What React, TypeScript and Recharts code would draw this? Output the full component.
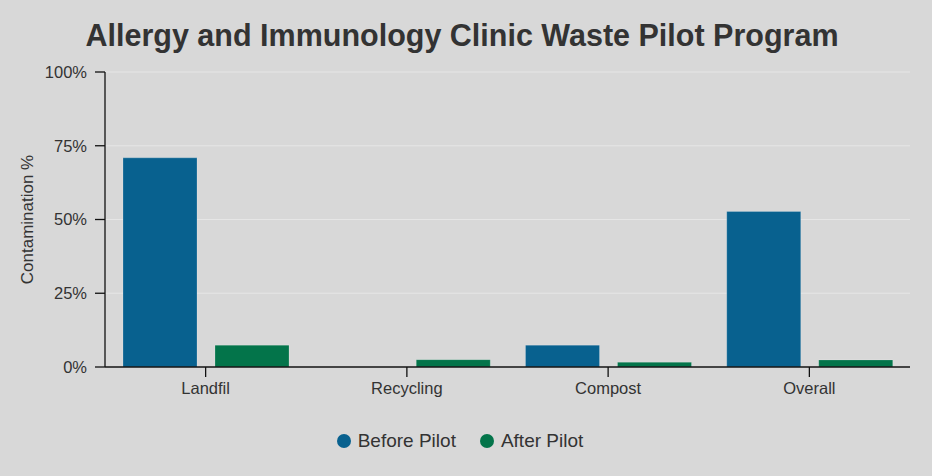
import { Bar, BarChart, CartesianGrid, Legend, XAxis, YAxis } from "recharts";

if (typeof document !== "undefined") document.body.style.margin = "0";

const categories = ["Landfil", "Recycling", "Compost", "Overall"];
const beforePilot = [70.9, 0, 7.4, 52.7];
const afterPilot = [7.4, 2.5, 1.6, 2.4];
const yTicks = [0, 25, 50, 75, 100];
const seriesNames = ["Before Pilot", "After Pilot"];
const colors = ["#08618f", "#03744a"];

const data = categories.map((category, i) => ({
  category,
  before: beforePilot[i],
  after: afterPilot[i],
}));

const textColor = "#333333";
const font = '"Liberation Sans", Arial, Helvetica, sans-serif';

function PilotLegend() {
  return (
    <div style={{ display: "flex", justifyContent: "center", alignItems: "center", height: 28, gap: 24 }}>
      {seriesNames.map((name, i) => (
        <span key={name} style={{ display: "flex", alignItems: "center", gap: 7, fontSize: 19, color: textColor, fontFamily: font }}>
          <span style={{ width: 14, height: 14, borderRadius: 7, backgroundColor: colors[i], display: "inline-block" }} />
          {name}
        </span>
      ))}
    </div>
  );
}

function YLabel({ viewBox }: any) {
  const cy = viewBox.y + viewBox.height / 2;
  return (
    <text x={33} y={cy} transform={`rotate(-90, 33, ${cy})`} textAnchor="middle" fill={textColor} fontSize={17} fontFamily={font}>
      Contamination %
    </text>
  );
}

export default function App() {
  return (
    <div style={{ position: "relative", width: 932, height: 476, background: "#d8d8d8", fontFamily: font }}>
      <div
        style={{
          position: "absolute",
          top: 18,
          left: 0,
          width: 924,
          textAlign: "center",
          fontSize: 30.5,
          fontWeight: 700,
          color: textColor,
          lineHeight: "normal",
          zIndex: 1,
        }}
      >
        Allergy and Immunology Clinic Waste Pilot Program
      </div>
      <BarChart
        width={932}
        height={476}
        data={data}
        margin={{ top: 72, right: 22, left: 0, bottom: 21 }}
        barCategoryGap={18}
        barGap={18}
      >
        <CartesianGrid vertical={false} stroke="#e6e6e6" strokeWidth={1.2} />
        <XAxis
          dataKey="category"
          height={60}
          tickSize={10}
          tickMargin={5}
          axisLine={{ stroke: "#111", strokeWidth: 1.3 }}
          tickLine={{ stroke: "#111", strokeWidth: 1.3 }}
          tick={{ fill: textColor, fontSize: 16.5, fontFamily: font }}
        />
        <YAxis
          width={105}
          domain={[0, 100]}
          ticks={yTicks}
          tickFormatter={(v) => `${v}%`}
          tickSize={10}
          tickMargin={8}
          axisLine={{ stroke: "#111", strokeWidth: 1.3 }}
          tickLine={{ stroke: "#111", strokeWidth: 1.3 }}
          tick={{ fill: textColor, fontSize: 16.5, fontFamily: font }}
          label={<YLabel />}
        />
        <Legend
          verticalAlign="bottom"
          content={<PilotLegend />}
          wrapperStyle={{ left: 0, width: 920, height: 28 }}
        />
        <Bar dataKey="before" name={seriesNames[0]} fill={colors[0]} stroke="rgba(255,255,255,0.2)" isAnimationActive={false} />
        <Bar dataKey="after" name={seriesNames[1]} fill={colors[1]} stroke="rgba(255,255,255,0.2)" isAnimationActive={false} />
      </BarChart>
    </div>
  );
}
